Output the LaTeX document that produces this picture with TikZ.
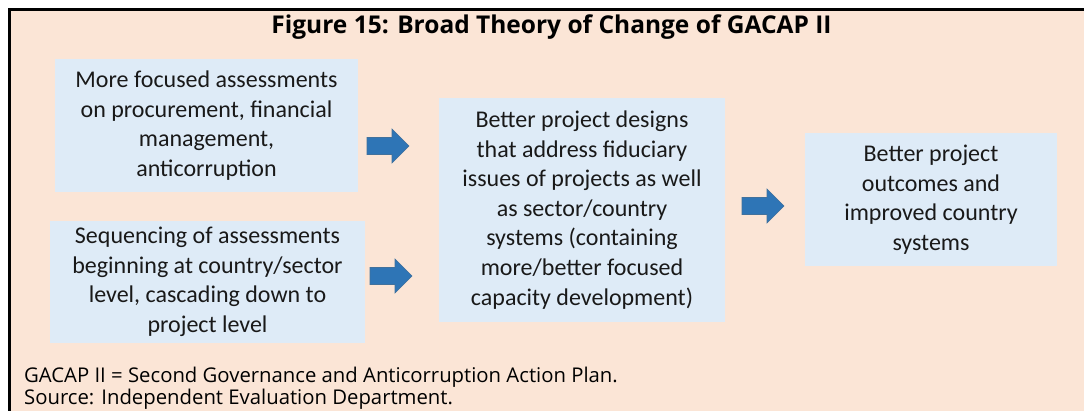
\documentclass[tikz,border=0pt]{standalone}
\usepackage{fontspec}
\setmainfont{Carlito}
\newfontfamily\osans{Open Sans}
\definecolor{peach}{HTML}{FBE5D6}
\definecolor{boxblue}{HTML}{DEEBF7}
\definecolor{arrowblue}{HTML}{2E75B6}
\definecolor{arrowedge}{HTML}{41719C}
\tikzset{
  box/.style={rectangle, fill=boxblue, draw=none, align=center, inner sep=0pt,
    font=\fontsize{24}{29.6}\selectfont, text=black!90},
  barrow/.pic={\filldraw[fill=arrowblue, draw=arrowedge, line width=0.6pt]
    (0,-8.5) -- (25,-8.5) -- (25,-17) -- (42,0) -- (25,17) -- (25,8.5) -- (0,8.5) -- cycle;},
  foot/.style={anchor=base west, inner sep=0pt, font=\osans\fontsize{20.3}{22}\selectfont, text=black}
}
\begin{document}
\begin{tikzpicture}[x=1pt,y=-1pt]
\useasboundingbox (0,0) rectangle (1084,411);
\fill[white] (0,0) rectangle (1084,411);
\fill[peach] (9.5,9.5) rectangle (1084,411);
\draw[black, line width=3.2pt] (9.5,411) -- (9.5,9.5) -- (1084,9.5);
\node[anchor=base, inner sep=0pt, font=\osans\bfseries\fontsize{24.5}{28}\selectfont] (title) at (551.5,34) {Figure 15: Broad Theory of Change of GACAP II};
\node[box, minimum width=303pt, minimum height=133pt] (b1) at (206.5,125.5) {More focused assessments\\on procurement, financial\\management,\\anticorruption};
\node[box, minimum width=315pt, minimum height=122pt] (b2) at (207.5,282) {Sequencing of assessments\\beginning at country/sector\\level, cascading down to\\project level};
\node[box, minimum width=286pt, minimum height=224pt] (b3) at (582,210) {Better project designs\\that address fiduciary\\issues of projects as well\\as sector/country\\systems (containing\\more/better focused\\capacity development)};
\node[box, minimum width=252pt, minimum height=133pt] (b4) at (931,199.5) {Better project\\outcomes and\\improved country\\systems};
\pic at (367,146) {barrow};
\pic at (370,276) {barrow};
\pic at (742,206) {barrow};
\node[foot] (f1) at (24,382) {GACAP II = Second Governance and Anticorruption Action Plan.};
\node[foot] (f2) at (24,404) {Source: Independent Evaluation Department.};
\end{tikzpicture}
\end{document}
